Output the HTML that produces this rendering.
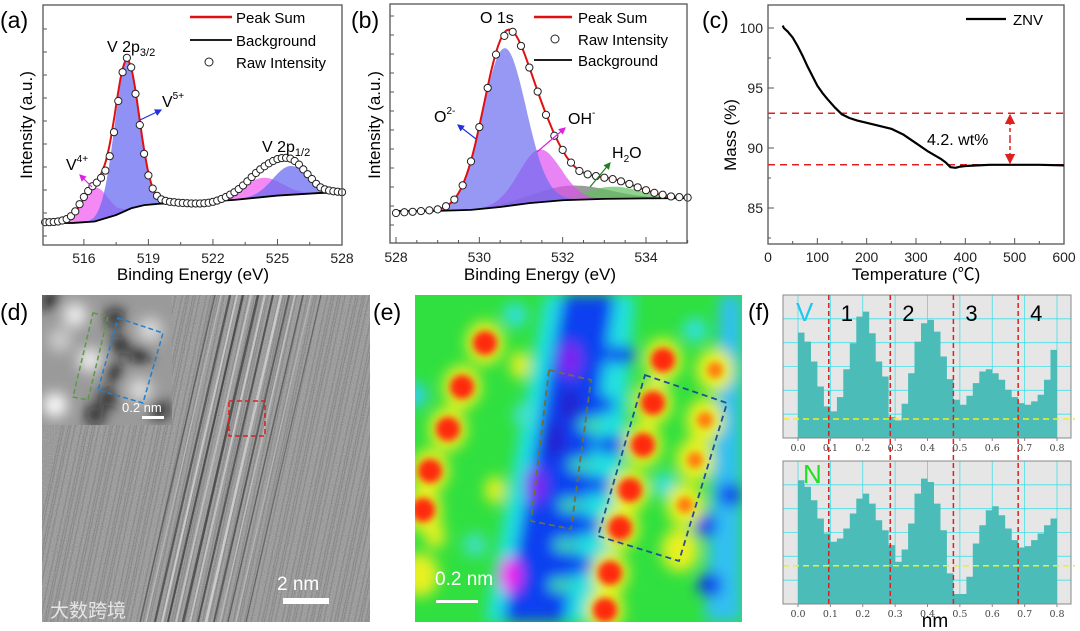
<!DOCTYPE html>
<html><head><meta charset="utf-8"><style>
html,body{margin:0;padding:0;background:#fff;}
svg{display:block;font-family:"Liberation Sans","Noto Sans CJK SC",sans-serif;}
</style></head><body>
<svg id="fig" width="1080" height="631" viewBox="0 0 1080 631" xmlns="http://www.w3.org/2000/svg">
<defs>
<filter id="blur6" x="-50%" y="-50%" width="200%" height="200%"><feGaussianBlur stdDeviation="7"/></filter>
<filter id="blur3" x="-50%" y="-50%" width="200%" height="200%"><feGaussianBlur stdDeviation="3.5"/></filter>
<filter id="noise" x="0" y="0" width="100%" height="100%"><feTurbulence type="fractalNoise" baseFrequency="0.9" numOctaves="2" seed="3"/><feColorMatrix type="saturate" values="0"/><feComponentTransfer><feFuncA type="linear" slope="0" intercept="0.35"/></feComponentTransfer></filter>
<clipPath id="clipD"><rect x="42" y="295" width="328" height="327"/></clipPath>
<clipPath id="clipE"><rect x="415" y="295" width="327" height="327"/></clipPath>
<clipPath id="clipInset"><rect x="42" y="295" width="130" height="130"/></clipPath>
<marker id="arB" markerWidth="6" markerHeight="6" refX="5" refY="3" orient="auto"><path d="M0,0 L6,3 L0,6z" fill="#2030e0"/></marker>
<marker id="arM" markerWidth="6" markerHeight="6" refX="5" refY="3" orient="auto"><path d="M0,0 L6,3 L0,6z" fill="#e020e0"/></marker>
<marker id="arG" markerWidth="6" markerHeight="6" refX="5" refY="3" orient="auto"><path d="M0,0 L6,3 L0,6z" fill="#208020"/></marker>
<marker id="arR" markerWidth="7" markerHeight="7" refX="6" refY="3.5" orient="auto"><path d="M0,0 L7,3.5 L0,7z" fill="#e02020"/></marker>
</defs>
<g id="layer"></g>
</svg>
<script>
// ---------- Panel (a) data ----------
const aRawE=[514.2,514.4,514.6,514.8,515.0,515.2,515.4,515.6,515.8,516.0,516.2,516.4,516.6,516.8,517.0,517.2,517.4,517.6,517.8,518.0,518.2,518.4,518.6,518.8,519.0,519.2,519.4,519.6,519.8,520.0,520.2,520.4,520.6,520.8,521.0,521.2,521.4,521.6,521.8,522.0,522.2,522.4,522.6,522.8,523.0,523.2,523.4,523.6,523.8,524.0,524.2,524.4,524.6,524.8,525.0,525.2,525.4,525.6,525.8,526.0,526.2,526.4,526.6,526.8,527.0,527.2,527.4,527.6,527.8,528.0];
const aRawI=[9.5,9.5,9.6,9.8,10.2,10.8,12,14,17,20,22.5,24.5,26,28,31,37,47,60,72,78,74,63,50,38,29,23.5,20.5,19,18.4,18,17.8,17.6,17.5,17.4,17.3,17.3,17.3,17.4,17.6,18,18.5,19.2,20,21,22,23.3,24.8,26.5,28.3,30,31.5,32.8,34,35,35.8,36.2,36.3,36,35,33.5,31.5,29.5,27.5,25.5,24,23.2,22.7,22.4,22.2,22];
const aBgE=[514.2,515.5,516.5,517.5,518.2,518.8,519.5,521,523,525,527,528];
const aBgI=[9.1,9.2,9.8,12.5,15.3,16.6,17.2,17.6,18.8,20.6,21.7,21.8];
const aPeakName=["V4+","V5+ 2p3/2","V4+ 2p1/2","V5+ 2p1/2"];
const aPeakCenter=[516.5,518.0,524.3,525.6];
const aPeakAmp=[14,62,8,12];
const aPeakSigma=[0.6,0.57,0.9,0.8];
const aPeakColor=["#f060f0","#6b6cf0","#f060f0","#6b6cf0"];
const aXTicks=[516,519,522,525,528];
// ---------- Panel (b) data ----------
const bRawE=[528,528.2,528.4,528.6,528.8,529,529.2,529.4,529.6,529.8,530,530.2,530.4,530.6,530.8,531,531.2,531.4,531.6,531.8,532,532.2,532.4,532.6,532.8,533,533.2,533.4,533.6,533.8,534,534.2,534.4,534.6,534.8,535];
const bRawI=[12.5,12.8,13,13.3,13.6,14,15.3,18.1,24,34,48.3,64.6,78.5,86.3,88,82.1,73.1,63.1,53.4,44.7,38.8,33.5,30,28.6,27.9,27.2,26.6,25.7,24.6,23.2,22,20.9,20.1,19.4,19.1,18.9];
const bBgE=[528,529,529.8,530.5,531.2,532,533,534,535];
const bBgI=[13.3,13.4,13.8,15,16.6,17.8,18.4,18.6,18.7];
const bPeakName=["O2-","OH-","gray","H2O"];
const bPeakCenter=[530.6,531.45,532.2,533.2];
const bPeakAmp=[66,22,6,5];
const bPeakSigma=[0.52,0.5,0.9,0.7];
const bPeakColor=["#6b6cf0","#e050f0","#707070","#60c060"];
const bXTicks=[528,530,532,534];
// ---------- Panel (c) data ----------
const cTemp=[30,32,40,50,60,70,80,90,100,110,120,135,150,165,180,200,225,250,275,300,325,350,360,370,380,390,400,425,450,500,550,600];
const cMass=[100.2,100,99.7,99.2,98.5,97.7,96.8,96,95.2,94.6,94.1,93.4,92.8,92.5,92.3,92.1,91.85,91.6,91.1,90.4,89.7,89.1,88.8,88.4,88.35,88.45,88.5,88.55,88.6,88.6,88.6,88.55];
const cXTicks=[0,100,200,300,400,500,600];
const cYTicks=[85,90,95,100];
const cLevels=[92.9,88.6];
// ---------- Panel (f) data ----------
const fPos=[0,0.02,0.04,0.06,0.08,0.10,0.12,0.14,0.16,0.18,0.20,0.22,0.24,0.26,0.28,0.30,0.32,0.34,0.36,0.38,0.40,0.42,0.44,0.46,0.48,0.50,0.52,0.54,0.56,0.58,0.60,0.62,0.64,0.66,0.68,0.70,0.72,0.74,0.76,0.78];
const fV=[317,290,230,155,95,80,123,207,285,365,380,315,230,185,63,53,103,195,290,345,355,320,245,177,115,100,127,165,200,207,195,175,145,123,105,100,110,130,175,265];
const fN=[372,352,312,257,212,187,197,227,272,317,332,302,252,222,177,127,164,242,332,377,367,302,222,92,30,30,82,182,237,282,294,267,227,192,170,174,192,212,237,257];
const fTicks=[0.0,0.1,0.2,0.3,0.4,0.5,0.6,0.7,0.8];
const fMarkers=[0.095,0.285,0.48,0.68];
const fThreshV=57, fThreshN=115;

const NS="http://www.w3.org/2000/svg";
const L=document.getElementById('layer');
function el(tag,attrs,parent){const e=document.createElementNS(NS,tag);for(const k in attrs)e.setAttribute(k,attrs[k]);(parent||L).appendChild(e);return e;}
function txt(x,y,s,size,attrs,parent){const t=el('text',Object.assign({x:x,y:y,'font-size':size,fill:'#000'},attrs||{}),parent);t.textContent=s;return t;}
function lin(d0,d1,r0,r1){return v=>r0+(v-d0)/(d1-d0)*(r1-r0);}
function interp(xs,ys,x){if(x<=xs[0])return ys[0];for(let i=1;i<xs.length;i++){if(x<=xs[i]){const t=(x-xs[i-1])/(xs[i]-xs[i-1]);return ys[i-1]+t*(ys[i]-ys[i-1]);}}return ys[ys.length-1];}
function gauss(x,c,a,s){return a*Math.exp(-0.5*((x-c)/s)**2);}

// ===== Panel (a) =====
(function(){
const g=el('g',{});


const X=lin(514.1,528,43,342), Y=lin(0,100,245,5);
const xmin=514.2,xmax=528;
for(let k=0;k<aPeakCenter.length;k++){
  let top=[],bot=[];
  for(let x=xmin;x<=xmax+1e-9;x+=0.05){const b=interp(aBgE,aBgI,x);const v=gauss(x,aPeakCenter[k],aPeakAmp[k],aPeakSigma[k]);if(v<0.05)continue;top.push(X(x).toFixed(1)+','+Y(b+v).toFixed(1));bot.unshift(X(x).toFixed(1)+','+Y(b).toFixed(1));}
  const p=el('polygon',{points:top.concat(bot).join(' '),fill:aPeakColor[k],'fill-opacity':0.75},g);
  
  
}
let ps=[];for(let x=xmin;x<=xmax+1e-9;x+=0.05){let v=interp(aBgE,aBgI,x);for(let k=0;k<aPeakCenter.length;k++)v+=gauss(x,aPeakCenter[k],aPeakAmp[k],aPeakSigma[k]);ps.push(X(x).toFixed(1)+','+Y(v).toFixed(1));}
const sum=el('polyline',{points:ps.join(' '),fill:'none',stroke:'#e01010','stroke-width':2},g);

const bg=el('polyline',{points:aBgE.map((e,i)=>X(e)+','+Y(aBgI[i])).join(' '),fill:'none',stroke:'#000','stroke-width':1.8},g);

aRawE.forEach((e,i)=>{const c=el('circle',{cx:X(e),cy:Y(aRawI[i]),r:3.6,fill:'#fff',stroke:'#222','stroke-width':1},g);
  });
const fr=el('rect',{x:43,y:5,width:299,height:240,fill:'none',stroke:'#555','stroke-width':1.3},g);

for(let v=516;v<=528;v+=1.5){el('line',{x1:X(v),x2:X(v),y1:245,y2:v%3===0?239:242,stroke:'#555'},g);}
for(let y=245-9;y>8;y-=23){el('line',{x1:43,x2:47,y1:y,y2:y,stroke:'#555'},g);}
aXTicks.forEach(v=>{const t=txt(X(v),263,String(v),14,{'text-anchor':'middle',fill:'#222'},g);});
const xt=txt(193,280,'Binding Energy (eV)',17,{'text-anchor':'middle'},g);
const yt=txt(0,0,'Intensity (a.u.)',17,{'text-anchor':'middle',transform:'translate(32,125) rotate(-90)'},g);
const pl=txt(0,28,'(a)',23,{},g);
const lg=el('g',{},g);
el('line',{x1:190,x2:232,y1:17,y2:17,stroke:'#e01010','stroke-width':2.5},lg);txt(236,23,'Peak Sum',15,{},lg);
el('line',{x1:190,x2:232,y1:40,y2:40,stroke:'#000','stroke-width':1.8},lg);txt(236,46,'Background',15,{},lg);
el('circle',{cx:209,cy:62,r:4,fill:'#fff',stroke:'#222'},lg);txt(236,68,'Raw Intensity',15,{},lg);
const a1=txt(107,52,'V 2p',16,{},g);const s1=el('tspan',{'font-size':11,dy:4},a1);s1.textContent='3/2';
const a2=txt(262,152,'V 2p',16,{},g);const s2=el('tspan',{'font-size':11,dy:4},a2);s2.textContent='1/2';
const a3=txt(162,107,'V',16,{},g);const s3=el('tspan',{'font-size':10,dy:-8},a3);s3.textContent='5+';
el('line',{x1:140,x2:161,y1:120,y2:110,stroke:'#2030e0','stroke-width':1.2,'marker-end':'url(#arB)'},g);
const a4=txt(66,170,'V',16,{},g);const s4=el('tspan',{'font-size':10,dy:-8},a4);s4.textContent='4+';
el('line',{x1:92,x2:80,y1:187,y2:175,stroke:'#e020e0','stroke-width':1.2,'marker-end':'url(#arM)'},g);
})();

// ===== Panel (b) =====
(function(){
const g=el('g',{});


const X=lin(528,534,396,646), Y=lin(0,100,243,3);
const xmin=528,xmax=535;
const order=[2,3,1,0];
order.forEach(k=>{
  let top=[],bot=[];
  for(let x=xmin;x<=xmax+1e-9;x+=0.05){const b=interp(bBgE,bBgI,x);const v=gauss(x,bPeakCenter[k],bPeakAmp[k],bPeakSigma[k]);if(v<0.05)continue;top.push(X(x).toFixed(1)+','+Y(b+v).toFixed(1));bot.unshift(X(x).toFixed(1)+','+Y(b).toFixed(1));}
  const p=el('polygon',{points:top.concat(bot).join(' '),fill:bPeakColor[k],'fill-opacity':0.7},g);
  
  
});
let ps=[];for(let x=528.9;x<=xmax+1e-9;x+=0.05){let v=interp(bBgE,bBgI,x);for(let k=0;k<bPeakCenter.length;k++)v+=gauss(x,bPeakCenter[k],bPeakAmp[k],bPeakSigma[k]);ps.push(X(x).toFixed(1)+','+Y(v).toFixed(1));}
const sum=el('polyline',{points:ps.join(' '),fill:'none',stroke:'#e01010','stroke-width':2},g);

const bg=el('polyline',{points:bBgE.map((e,i)=>X(e)+','+Y(bBgI[i])).join(' '),fill:'none',stroke:'#000','stroke-width':1.8},g);

bRawE.forEach((e,i)=>{const c=el('circle',{cx:X(e),cy:Y(bRawI[i]),r:3.6,fill:'#fff',stroke:'#222','stroke-width':1},g);
  });
const fr=el('rect',{x:390,y:4,width:297,height:239,fill:'none',stroke:'#555','stroke-width':1.3},g);

for(let v=528;v<=535;v+=0.5){el('line',{x1:X(v),x2:X(v),y1:243,y2:v%2===0?237:240,stroke:'#555'},g);}
for(let y=243-18;y>8;y-=19){el('line',{x1:390,x2:394,y1:y,y2:y,stroke:'#555'},g);}
bXTicks.forEach(v=>{const t=txt(X(v),262,String(v),14,{'text-anchor':'middle',fill:'#222'},g);});
const xt=txt(540,280,'Binding Energy (eV)',17,{'text-anchor':'middle'},g);
const yt=txt(0,0,'Intensity (a.u.)',17,{'text-anchor':'middle',transform:'translate(380,125) rotate(-90)'},g);
const pl=txt(351,28,'(b)',23,{},g);
const lg=el('g',{},g);
el('line',{x1:534,x2:572,y1:17,y2:17,stroke:'#e01010','stroke-width':2.5},lg);txt(578,23,'Peak Sum',15,{},lg);
el('circle',{cx:555,cy:39,r:4,fill:'#fff',stroke:'#222'},lg);txt(578,45,'Raw Intensity',15,{},lg);
el('line',{x1:534,x2:572,y1:60,y2:60,stroke:'#000','stroke-width':1.8},lg);txt(578,66,'Background',15,{},lg);
const o=txt(480,23,'O 1s',16,{},g);
const a1=txt(434,122,'O',16,{},g);const s1=el('tspan',{'font-size':10,dy:-8},a1);s1.textContent='2-';
el('line',{x1:476,x2:458,y1:139,y2:125,stroke:'#2030e0','stroke-width':1.2,'marker-end':'url(#arB)'},g);
const a2=txt(568,124,'OH',16,{},g);const s2=el('tspan',{'font-size':10,dy:-8},a2);s2.textContent='-';
el('line',{x1:537,x2:565,y1:152,y2:128,stroke:'#e020e0','stroke-width':1.2,'marker-end':'url(#arM)'},g);
const a3=txt(612,158,'H',16,{},g);const s3=el('tspan',{'font-size':10,dy:4},a3);s3.textContent='2';const s3b=el('tspan',{'font-size':16,dy:-4},a3);s3b.textContent='O';
el('line',{x1:590,x2:610,y1:187,y2:163,stroke:'#208020','stroke-width':1.2,'marker-end':'url(#arG)'},g);
})();

// ===== Panel (c) =====
(function(){
const g=el('g',{});


const X=lin(0,600,768,1064), Y=lin(85,100,208,28);
const fr=el('rect',{x:768,y:5,width:296,height:239,fill:'none',stroke:'#555','stroke-width':1.3},g);

cLevels.forEach(v=>{const l=el('line',{x1:768,x2:1064,y1:Y(v),y2:Y(v),stroke:'#e02020','stroke-width':1.5,'stroke-dasharray':'7,5'},g);});
const ar=el('line',{x1:1010,x2:1010,y1:(Y(cLevels[0])+Y(cLevels[1]))/2,y2:Y(cLevels[0])+2,stroke:'#e02020','stroke-width':1.5,'stroke-dasharray':'4,3','marker-end':'url(#arR)'},g);

const ar2=el('line',{x1:1010,x2:1010,y1:(Y(cLevels[0])+Y(cLevels[1]))/2,y2:Y(cLevels[1])-2,stroke:'#e02020','stroke-width':1.5,'stroke-dasharray':'4,3','marker-end':'url(#arR)'},g);

const cl=el('polyline',{points:cTemp.map((t,i)=>X(t).toFixed(1)+','+Y(cMass[i]).toFixed(1)).join(' '),fill:'none',stroke:'#000','stroke-width':2.2,'stroke-linejoin':'round'},g);

for(let v=0;v<=600;v+=50){el('line',{x1:X(v),x2:X(v),y1:244,y2:v%100===0?238:241,stroke:'#555'},g);}
for(let v=82.5;v<=101;v+=2.5){el('line',{x1:768,x2:v%5===0?774:771,y1:Y(v),y2:Y(v),stroke:'#555'},g);}
cXTicks.forEach(v=>{const t=txt(X(v),262,String(v),14,{'text-anchor':'middle',fill:'#222'},g);});
cYTicks.forEach(v=>{const t=txt(763,Y(v)+5,String(v),14,{'text-anchor':'end',fill:'#222'},g);});
const xt=txt(916,280,'Temperature (℃)',17,{'text-anchor':'middle'},g);
const yt=txt(0,0,'Mass (%)',17,{'text-anchor':'middle',transform:'translate(736,135) rotate(-90)'},g);
const pl=txt(702,28,'(c)',23,{},g);
const lg=el('g',{},g);
el('line',{x1:966,x2:1006,y1:19,y2:19,stroke:'#000','stroke-width':2.2},lg);txt(1013,25,'ZNV',15,{},lg);
const an=txt(927,145,'4.2. wt%',16,{},g);
})();

// ===== Panel (d) HRTEM =====
(function(){
const g=el('g',{'clip-path':'url(#clipD)'});


el('rect',{x:42,y:295,width:328,height:327,fill:'#8a8a8a'},g);
el('rect',{x:42,y:295,width:328,height:327,filter:'url(#noise)'},g);
for(let i=0;i<170;i++){const x=i*2.2+20;const sh=((i*37)%11)/10;el('line',{x1:x,y1:622,x2:x+70,y2:295,stroke:sh>0.5?'#b0b0b0':'#686868','stroke-width':1,'stroke-opacity':0.3},g);}
const streaks=[[175,-2.2,'#222'],[182,2,'#eee'],[188,-2,'#111'],[196,2,'#ddd'],[203,-2.5,'#1a1a1a'],[210,2,'#e8e8e8'],[218,-2,'#222'],[226,2.5,'#f0f0f0'],[234,-1.8,'#2a2a2a'],[240,1.5,'#ddd'],[248,-1.5,'#333'],[256,1.5,'#ccc'],[160,-1.5,'#3a3a3a'],[166,1.5,'#cfcfcf'],[266,-1.2,'#444']];
streaks.forEach(s=>{el('line',{x1:s[0]-20,y1:622,x2:s[0]+55,y2:295,stroke:s[2],'stroke-width':Math.abs(s[1]),'stroke-opacity':0.55},g);});
const ins=el('g',{'clip-path':'url(#clipInset)'},g);

el('rect',{x:42,y:295,width:130,height:130,fill:'#9a9a9a'},ins);
const ig=el('g',{filter:'url(#blur6)'},ins);
[[75,315,'#eee'],[90,360,'#eee'],[55,405,'#fff'],[150,330,'#ddd'],[140,390,'#ddd'],[60,340,'#ccc']].forEach(p=>el('circle',{cx:p[0],cy:p[1],r:12,fill:p[2]},ig));
[[115,318],[120,345],[113,372],[108,398],[140,355],[95,415],[50,300],[160,410]].forEach(p=>el('circle',{cx:p[0],cy:p[1],r:9,fill:'#111'},ig));
el('polygon',{points:'93,313 108,316 88,400 73,397',fill:'none',stroke:'#5a9a40','stroke-width':1.5,'stroke-dasharray':'5,3'},ins);
el('polygon',{points:'118,318 163,333 143,403 98,390',fill:'none',stroke:'#2080d0','stroke-width':1.5,'stroke-dasharray':'5,3'},ins);
const it=txt(122,412,'0.2 nm',13,{fill:'#fff'},ins);
el('rect',{x:142,y:416,width:22,height:3,fill:'#fff'},ins);
const rb=el('rect',{x:229,y:401,width:36,height:35,fill:'none',stroke:'#e02020','stroke-width':1.6,'stroke-dasharray':'5,3'},g);

const sl=txt(277,590,'2 nm',19,{fill:'#fff'},g);
const sb=el('rect',{x:283,y:598,width:46,height:6,fill:'#fff'},g);
const wm=txt(50,617,'大数跨境',19,{fill:'#fff','fill-opacity':0.75,'font-family':'"Noto Sans CJK SC",sans-serif'},g);
const pl=txt(0,320,'(d)',23,{});
})();

// ===== Panel (e) color map =====
(function(){
const g=el('g',{'clip-path':'url(#clipE)'});


el('rect',{x:415,y:295,width:327,height:327,fill:'#30e040'},g);
const b=el('g',{filter:'url(#blur6)'},g);
const ox=415,oy=295;
el('polygon',{points:[[130,0],[220,0],[195,327],[70,327]].map(p=>(p[0]+ox)+','+(p[1]+oy)).join(' '),fill:'#20e0e0'},b);
el('polygon',{points:[[148,0],[200,0],[150,327],[88,327]].map(p=>(p[0]+ox)+','+(p[1]+oy)).join(' '),fill:'#1040f0'},b);
[[185,110],[195,150],[180,190],[170,230],[165,270],[205,60]].forEach(p=>el('ellipse',{cx:p[0]+ox,cy:p[1]+oy,rx:16,ry:9,fill:'#1040f0'},b));
[[175,130],[165,170],[155,210],[150,250],[145,290]].forEach(p=>el('ellipse',{cx:p[0]+ox,cy:p[1]+oy,rx:12,ry:7,fill:'#40e0a0'},b));
el('polygon',{points:[[305,0],[327,0],[327,327],[290,327]].map(p=>(p[0]+ox)+','+(p[1]+oy)).join(' '),fill:'#30c0f0'},b);
[[290,230,'#1030f0'],[295,290,'#1030f0'],[315,200,'#1040f0'],[0,100,'#30d0f0'],[240,95,'#30e0e0'],[250,190,'#30e0e0'],[100,20,'#30e0e0'],[60,250,'#40e0c0'],[110,120,'#40e0d0'],[280,35,'#30e0e0']].forEach(p=>el('circle',{cx:p[0]+ox,cy:p[1]+oy,r:12,fill:p[2]},b));
[[155,65,'#8020f0'],[120,190,'#8020f0'],[95,280,'#f020f0'],[155,110,'#2020d0'],[140,145,'#2020d0']].forEach(p=>el('ellipse',{cx:p[0]+ox,cy:p[1]+oy,rx:11,ry:18,fill:p[2]},b));
const yl=[[70,48],[47,92],[33,134],[15,176],[8,215],[248,65],[238,108],[228,150],[215,195],[205,233],[195,278],[190,315],[280,165],[270,210],[290,125],[300,75],[265,255],[5,280],[105,70],[80,195],[20,240]];
yl.forEach((p,i)=>el('ellipse',{cx:p[0]+ox,cy:p[1]+oy,rx:i>=18?10:19,ry:i>=18?14:22,fill:'#e8f020'},b));
const b2=el('g',{filter:'url(#blur3)'},g);
yl.slice(0,16).forEach((p,i)=>el('circle',{cx:p[0]+ox,cy:p[1]+oy,r:i>=12?8:12,fill:i>=12?'#ff8010':'#ff2a10'},b2));
el('polygon',{points:'549,370 591,380 571,529 531,521',fill:'none',stroke:'#6a7040','stroke-width':1.8,'stroke-dasharray':'6,4'},g);
el('polygon',{points:'645,375 727,403 679,561 598,536',fill:'none',stroke:'#205090','stroke-width':1.8,'stroke-dasharray':'6,4'},g);
const sl=txt(435,585,'0.2 nm',19,{fill:'#fff'},g);
const sb=el('rect',{x:436,y:600,width:42,height:3,fill:'#fff'},g);
const pl=txt(373,320,'(e)',23,{});
})();

// ===== Panel (f) line profiles =====
(function(){
const g=el('g',{});


const X=lin(0,0.8,798,1057);
function plot(top,bottom,vals,thresh,label,color,lx,ly){
  const H=bottom-top;const Y=v=>bottom-v/430*H;
  const pg=el('g',{},g);
  
  
  el('rect',{x:783,y:top,width:288,height:H,fill:'#e6e6e6'},pg);
  fTicks.forEach(v=>el('line',{x1:X(v),x2:X(v),y1:top,y2:bottom,stroke:'#40e0e8','stroke-width':0.8},pg));
  for(let k=1;k<6;k++){el('line',{x1:783,x2:1071,y1:bottom-k*H/6,y2:bottom-k*H/6,stroke:'#40e0e8','stroke-width':0.8},pg);}
  let d='M'+X(fPos[0])+','+bottom;
  fPos.forEach((p,i)=>{d+=' L'+X(p).toFixed(1)+','+Y(vals[i]).toFixed(1)+' L'+X(p+0.02).toFixed(1)+','+Y(vals[i]).toFixed(1);});
  d+=' L'+X(fPos[fPos.length-1]+0.02)+','+bottom+'Z';
  const bars=el('path',{d:d,fill:'#4bbcb8'},pg);
  
  const th=el('line',{x1:783,x2:1075,y1:Y(thresh),y2:Y(thresh),stroke:'#f0f020','stroke-width':1.5,'stroke-dasharray':'6,4'},pg);
  
  el('rect',{x:783,y:top,width:288,height:H,fill:'none',stroke:'#888','stroke-width':1},pg);
  fTicks.forEach(v=>{el('line',{x1:X(v),x2:X(v),y1:bottom,y2:bottom+3,stroke:'#888'},pg);const t=txt(X(v),bottom+13,v.toFixed(1),9.5,{'text-anchor':'middle',fill:'#444','font-family':'"DejaVu Serif",serif'},pg);});
  const lt=txt(lx,ly,label,26,{fill:color},pg);
}
plot(295,438,fV,fThreshV,'V','#20c8f0',796,321);
plot(461,604,fN,fThreshN,'N','#20e020',803,483);
fMarkers.forEach((m,i)=>{const l=el('line',{x1:X(m),x2:X(m),y1:295,y2:605,stroke:'#e02020','stroke-width':1.5,'stroke-dasharray':'5,3'},g);
  const t=txt(X(m)+12,321,String(i+1),22,{},g);});
const xt=txt(935,627,'nm',19,{'text-anchor':'middle'},g);
const pl=txt(748,320,'(f)',23,{},g);
})();
</script>
</body></html>
